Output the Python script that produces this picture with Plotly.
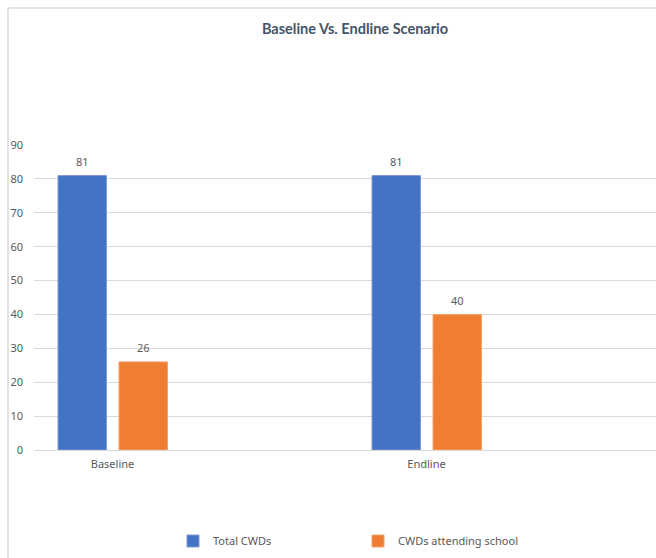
import plotly.graph_objects as go

categories = ["Baseline", "Endline"]
total_cwds = [81, 81]
cwds_school = [26, 40]
y_ticks = [0, 10, 20, 30, 40, 50, 60, 70, 80, 90]

W, H = 656, 558
L, R, T, B = 34, 0, 145, 108
pw = W - L - R
ph = H - T - B

xpos = list(range(len(categories)))
unit = 314.0
xmin = -(112.5 - L) / unit
xmax = xmin + pw / unit

bar_w = 48.5 / unit
off_blue = -54.5 / unit
off_orange = 6.5 / unit

def px_to_paper_x(px):
    return (px - L) / pw

def py_to_paper_y(py):
    return (H - B - py) / ph

txtc = "#595959"
grid = "#d9d9d9"

fig = go.Figure()
series = [
    ("Total CWDs", total_cwds, "#4472C4", "#7f9bd6", off_blue),
    ("CWDs attending school", cwds_school, "#EF7E32", "#f3a370", off_orange),
]
for name, vals, col, lcol, off in series:
    fig.add_trace(go.Bar(
        x=xpos, y=vals, name=name,
        width=[bar_w] * len(vals), offset=[off] * len(vals),
        marker=dict(color=col, line=dict(color=lcol, width=1)),
        hoverinfo="y",
    ))
    for xi, v in zip(xpos, vals):
        fig.add_annotation(
            x=xi + off + bar_w / 2, y=v, text=str(v), showarrow=False,
            xref="x", yref="y", yanchor="middle", yshift=14,
            font=dict(color=txtc, size=11, family="Noto Sans"),
        )

fig.update_layout(
    width=W, height=H,
    margin=dict(l=L, r=R, t=T, b=B),
    paper_bgcolor="white", plot_bgcolor="white",
    barmode="overlay",
    font=dict(family="Noto Sans", color=txtc, size=11),
    title=dict(
        text="<b>Baseline Vs. Endline Scenario</b>",
        font=dict(family="Lato", size=14.5, color="#44546A"),
        x=355 / W, xanchor="center", xref="container",
        y=1 - 29 / H, yanchor="middle", yref="container",
    ),
    xaxis=dict(
        range=[xmin, xmax], tickmode="array", tickvals=xpos, ticktext=categories,
        showgrid=False, showline=False, zeroline=False, ticks="",
        tickfont=dict(color=txtc, size=11), ticklabelstandoff=6,
    ),
    yaxis=dict(
        range=[0, 90], tickmode="array", tickvals=y_ticks,
        showgrid=True, gridcolor=grid, gridwidth=1,
        zeroline=True, zerolinecolor=grid, zerolinewidth=1,
        showline=False, ticks="", ticklabelstandoff=10,
        tickfont=dict(color=txtc, size=11),
    ),
    legend=dict(
        orientation="h", x=px_to_paper_x(173), xanchor="left",
        y=py_to_paper_y(541), yanchor="middle",
        entrywidth=140, entrywidthmode="pixels",
        font=dict(color=txtc, size=11), itemclick=False,
        bgcolor="rgba(0,0,0,0)",
    ),
    showlegend=True,
)

# chart area border (left and top edges visible)
fig.add_shape(type="line", xref="paper", yref="paper",
              x0=px_to_paper_x(8), x1=px_to_paper_x(8),
              y0=py_to_paper_y(8), y1=py_to_paper_y(560),
              line=dict(color=grid, width=1.5))
fig.add_shape(type="line", xref="paper", yref="paper",
              x0=px_to_paper_x(8), x1=px_to_paper_x(660),
              y0=py_to_paper_y(8), y1=py_to_paper_y(8),
              line=dict(color=grid, width=1.5))

fig.write_html("out.html")
